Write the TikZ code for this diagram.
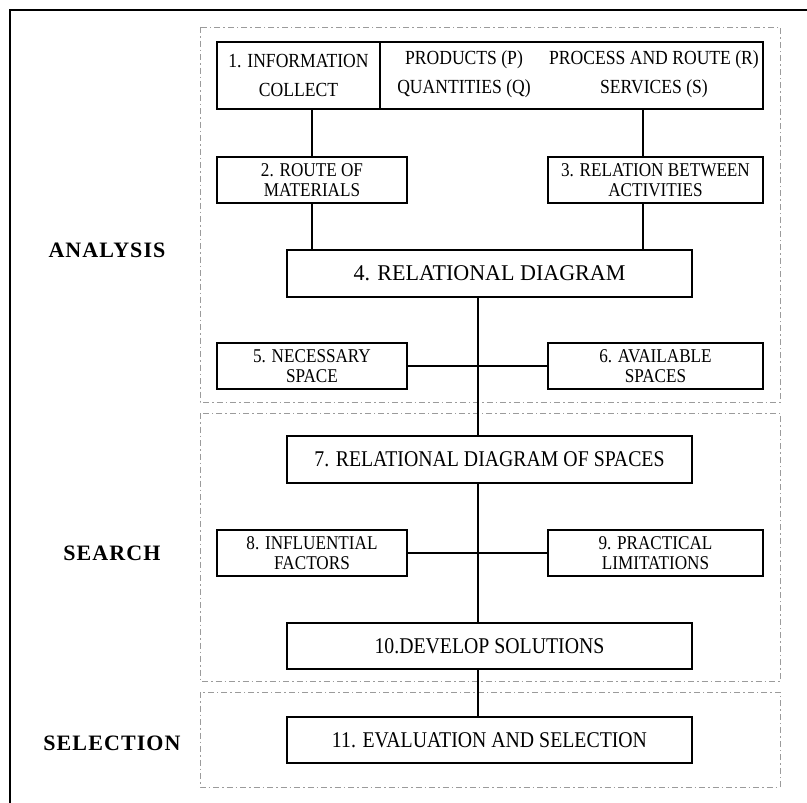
\documentclass[tikz,border=0pt]{standalone}
\usepackage{fontspec}
\setmainfont{Liberation Serif}
\newfontfamily\boxfont[FakeStretch=0.88]{Liberation Serif}
\newfontfamily\hubfont[FakeStretch=0.98]{Liberation Serif}
\newfontfamily\phasefont[LetterSpace=5]{Liberation Serif}
\usetikzlibrary{positioning}
\definecolor{zonegray}{RGB}{155,155,155}
\tikzset{
  block/.style={draw, line width=1.3pt, inner sep=0pt, align=center, font=\boxfont\fontsize{19.5}{20}\selectfont},
  rowtext/.style={inner sep=0pt, align=center, font=\boxfont\fontsize{20}{29}\selectfont},
  wideblock/.style={block, minimum width=405pt, minimum height=47pt, font=\boxfont\fontsize{22.5}{24}\selectfont},
  zone/.style={draw=zonegray, line width=1pt, dash pattern=on 6pt off 3pt on 1.5pt off 3pt},
  phase/.style={font=\phasefont\bfseries\fontsize{22}{24}\selectfont},
  link/.style={line width=1.3pt}
}

\begin{document}
\begin{tikzpicture}[x=1pt, y=-1pt]
	\useasboundingbox (0,0) rectangle (807,803);
	\draw [line width=2pt] (10,815) -- (10,10) -- (815,10);

	\draw [zone] (200,27) rectangle (780,402);
	\draw [zone] (200,413) rectangle (780,681);
	\draw [zone] (200,692) rectangle (780,787);

	\node [phase] (analysis) at (107,250) {ANALYSIS};
	\node [phase] (search) at (112,553) {SEARCH};
	\node [phase] (selection) at (112,743) {SELECTION};

	\node [block, minimum width=163pt, minimum height=67pt, font=\boxfont\fontsize{20}{29}\selectfont] (info) at (298.5,75.5) {1. INFORMATION\\COLLECT};
	\node [block, minimum width=383pt, minimum height=67pt] (data) at (571.5,75.5) {};
	\node [rowtext] (pq) at (464,74) {PRODUCTS (P)\\QUANTITIES (Q)};
	\node [rowtext] (rs) at (654,74) {PROCESS AND ROUTE (R)\\SERVICES (S)};

	\node [block, minimum width=190pt, minimum height=46pt] (route) at (312,180) {2. ROUTE OF\\MATERIALS};
	\node [block, minimum width=215pt, minimum height=46pt] (relation) at (655.5,180) {3. RELATION BETWEEN\\ACTIVITIES};
	\node [wideblock, font=\hubfont\fontsize{22.5}{24}\selectfont] (hub) at (489.5,273.5) {4. RELATIONAL DIAGRAM};
	\node [block, minimum width=190pt, minimum height=46pt] (need) at (312,366) {5. NECESSARY\\SPACE};
	\node [block, minimum width=215pt, minimum height=46pt] (avail) at (655.5,366) {6. AVAILABLE\\SPACES};

	\node [wideblock] (spaces) at (489.5,459.5) {7. RELATIONAL DIAGRAM OF SPACES};
	\node [block, minimum width=190pt, minimum height=46pt] (factors) at (312,553) {8. INFLUENTIAL\\FACTORS};
	\node [block, minimum width=215pt, minimum height=46pt] (limits) at (655.5,553) {9. PRACTICAL\\LIMITATIONS};
	\node [wideblock, minimum height=46pt] (develop) at (489.5,646) {10.DEVELOP SOLUTIONS};
	\node [wideblock, minimum height=46pt] (evaluate) at (489.5,740) {11. EVALUATION AND SELECTION};

	\coordinate (spine) at (478,0);
	\coordinate (rcol) at (643,0);

	\draw [link] (info.south -| route.north) -- (route.north);
	\draw [link] (data.south -| rcol) -- (relation.north -| rcol);
	\draw [link] (route.south) -- (hub.north -| route.south);
	\draw [link] (relation.south -| rcol) -- (hub.north -| rcol);
	\draw [link] (hub.south -| spine) -- (spaces.north -| spine);
	\draw [link] (need.east) -- (avail.west);
	\draw [link] (spaces.south -| spine) -- (develop.north -| spine);
	\draw [link] (factors.east) -- (limits.west);
	\draw [link] (develop.south -| spine) -- (evaluate.north -| spine);
\end{tikzpicture}
\end{document}
